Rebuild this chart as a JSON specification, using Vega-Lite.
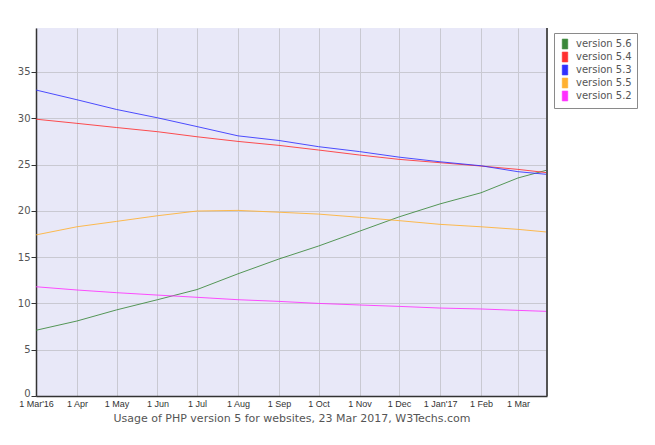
{
  "$schema": "https://vega.github.io/schema/vega-lite/v6.json",
  "width": 511,
  "height": 368,
  "autosize": {"type": "none"},
  "padding": {"left": 36, "top": 28, "right": 108, "bottom": 49},
  "background": "white",
  "config": {
    "view": {"stroke": null, "fill": "#e8e8f8"},
    "font": "DejaVu Sans"
  },
  "data": {
    "values": [
      {"date": "2016-03-01", "version": "version 5.6", "value": 7.1},
      {"date": "2016-04-01", "version": "version 5.6", "value": 8.1},
      {"date": "2016-05-01", "version": "version 5.6", "value": 9.3},
      {"date": "2016-06-01", "version": "version 5.6", "value": 10.4},
      {"date": "2016-07-01", "version": "version 5.6", "value": 11.5},
      {"date": "2016-08-01", "version": "version 5.6", "value": 13.2},
      {"date": "2016-09-01", "version": "version 5.6", "value": 14.8},
      {"date": "2016-10-01", "version": "version 5.6", "value": 16.2},
      {"date": "2016-11-01", "version": "version 5.6", "value": 17.8},
      {"date": "2016-12-01", "version": "version 5.6", "value": 19.35},
      {"date": "2017-01-01", "version": "version 5.6", "value": 20.75},
      {"date": "2017-02-01", "version": "version 5.6", "value": 21.95},
      {"date": "2017-03-01", "version": "version 5.6", "value": 23.55},
      {"date": "2017-03-23", "version": "version 5.6", "value": 24.4},
      {"date": "2016-03-01", "version": "version 5.4", "value": 29.9},
      {"date": "2016-04-01", "version": "version 5.4", "value": 29.45},
      {"date": "2016-05-01", "version": "version 5.4", "value": 29.0},
      {"date": "2016-06-01", "version": "version 5.4", "value": 28.55},
      {"date": "2016-07-01", "version": "version 5.4", "value": 28.0},
      {"date": "2016-08-01", "version": "version 5.4", "value": 27.5},
      {"date": "2016-09-01", "version": "version 5.4", "value": 27.07},
      {"date": "2016-10-01", "version": "version 5.4", "value": 26.57},
      {"date": "2016-11-01", "version": "version 5.4", "value": 26.03},
      {"date": "2016-12-01", "version": "version 5.4", "value": 25.56},
      {"date": "2017-01-01", "version": "version 5.4", "value": 25.2},
      {"date": "2017-02-01", "version": "version 5.4", "value": 24.84},
      {"date": "2017-03-01", "version": "version 5.4", "value": 24.48},
      {"date": "2017-03-23", "version": "version 5.4", "value": 24.12},
      {"date": "2016-03-01", "version": "version 5.3", "value": 33.05},
      {"date": "2016-04-01", "version": "version 5.3", "value": 32.0},
      {"date": "2016-05-01", "version": "version 5.3", "value": 30.95},
      {"date": "2016-06-01", "version": "version 5.3", "value": 30.05},
      {"date": "2016-07-01", "version": "version 5.3", "value": 29.1},
      {"date": "2016-08-01", "version": "version 5.3", "value": 28.1},
      {"date": "2016-09-01", "version": "version 5.3", "value": 27.6},
      {"date": "2016-10-01", "version": "version 5.3", "value": 26.93},
      {"date": "2016-11-01", "version": "version 5.3", "value": 26.4},
      {"date": "2016-12-01", "version": "version 5.3", "value": 25.8},
      {"date": "2017-01-01", "version": "version 5.3", "value": 25.3},
      {"date": "2017-02-01", "version": "version 5.3", "value": 24.87},
      {"date": "2017-03-01", "version": "version 5.3", "value": 24.23},
      {"date": "2017-03-23", "version": "version 5.3", "value": 23.94},
      {"date": "2016-03-01", "version": "version 5.5", "value": 17.4},
      {"date": "2016-04-01", "version": "version 5.5", "value": 18.28},
      {"date": "2016-05-01", "version": "version 5.5", "value": 18.86},
      {"date": "2016-06-01", "version": "version 5.5", "value": 19.47},
      {"date": "2016-07-01", "version": "version 5.5", "value": 19.98},
      {"date": "2016-08-01", "version": "version 5.5", "value": 20.05},
      {"date": "2016-09-01", "version": "version 5.5", "value": 19.85},
      {"date": "2016-10-01", "version": "version 5.5", "value": 19.65},
      {"date": "2016-11-01", "version": "version 5.5", "value": 19.3},
      {"date": "2016-12-01", "version": "version 5.5", "value": 18.94},
      {"date": "2017-01-01", "version": "version 5.5", "value": 18.54},
      {"date": "2017-02-01", "version": "version 5.5", "value": 18.28},
      {"date": "2017-03-01", "version": "version 5.5", "value": 18.0},
      {"date": "2017-03-23", "version": "version 5.5", "value": 17.71},
      {"date": "2016-03-01", "version": "version 5.2", "value": 11.8},
      {"date": "2016-04-01", "version": "version 5.2", "value": 11.45},
      {"date": "2016-05-01", "version": "version 5.2", "value": 11.16},
      {"date": "2016-06-01", "version": "version 5.2", "value": 10.9},
      {"date": "2016-07-01", "version": "version 5.2", "value": 10.66},
      {"date": "2016-08-01", "version": "version 5.2", "value": 10.4},
      {"date": "2016-09-01", "version": "version 5.2", "value": 10.22},
      {"date": "2016-10-01", "version": "version 5.2", "value": 10.0},
      {"date": "2016-11-01", "version": "version 5.2", "value": 9.83},
      {"date": "2016-12-01", "version": "version 5.2", "value": 9.68},
      {"date": "2017-01-01", "version": "version 5.2", "value": 9.5},
      {"date": "2017-02-01", "version": "version 5.2", "value": 9.4},
      {"date": "2017-03-01", "version": "version 5.2", "value": 9.25},
      {"date": "2017-03-23", "version": "version 5.2", "value": 9.14}
    ]
  },
  "layer": [
    {
      "mark": {"type": "line", "strokeWidth": 1, "opacity": 0.85},
      "encoding": {
        "x": {
          "field": "date",
          "type": "temporal",
          "scale": {
            "type": "utc",
            "domain": [
              {"year": 2016, "month": 3, "date": 1, "utc": true},
              {"year": 2017, "month": 3, "date": 23, "utc": true}
            ]
          },
          "axis": {
            "title": "Usage of PHP version 5 for websites, 23 Mar 2017, W3Techs.com",
            "titleFont": "DejaVu Sans",
            "titleFontSize": 11,
            "titleFontWeight": "normal",
            "titleColor": "#555555",
            "titlePadding": 4,
            "values": [
              {"year": 2016, "month": 3, "date": 1, "utc": true},
              {"year": 2016, "month": 4, "date": 1, "utc": true},
              {"year": 2016, "month": 5, "date": 1, "utc": true},
              {"year": 2016, "month": 6, "date": 1, "utc": true},
              {"year": 2016, "month": 7, "date": 1, "utc": true},
              {"year": 2016, "month": 8, "date": 1, "utc": true},
              {"year": 2016, "month": 9, "date": 1, "utc": true},
              {"year": 2016, "month": 10, "date": 1, "utc": true},
              {"year": 2016, "month": 11, "date": 1, "utc": true},
              {"year": 2016, "month": 12, "date": 1, "utc": true},
              {"year": 2017, "month": 1, "date": 1, "utc": true},
              {"year": 2017, "month": 2, "date": 1, "utc": true},
              {"year": 2017, "month": 3, "date": 1, "utc": true}
            ],
            "labelExpr": "(utcmonth(datum.value) == 0 || (utcmonth(datum.value) == 2 && utcyear(datum.value) == 2016)) ? '1 ' + utcFormat(datum.value, \"%b'%y\") : '1 ' + utcFormat(datum.value, '%b')",
            "labelFont": "Liberation Sans",
            "labelFontSize": 9,
            "labelColor": "#333333",
            "labelPadding": 3,
            "labelFlush": false,
            "labelOverlap": false,
            "ticks": false,
            "domainColor": "#333333",
            "domainWidth": 1.5,
            "grid": true,
            "gridColor": "#c9c9d2",
            "gridWidth": 1
          }
        },
        "y": {
          "field": "value",
          "type": "quantitative",
          "scale": {"domain": [0, 39.75], "nice": false, "zero": true},
          "axis": {
            "title": null,
            "values": [0, 5, 10, 15, 20, 25, 30, 35],
            "labelFont": "DejaVu Sans",
            "labelFontSize": 10,
            "labelColor": "#555555",
            "labelPadding": 1,
            "labelOffset": {"condition": {"test": "datum.value == 0", "value": -3}, "value": 0},
            "tickSize": 5,
            "tickColor": "#333333",
            "domainColor": "#333333",
            "domainWidth": 1.5,
            "gridColor": "#c9c9d2",
            "gridWidth": 1
          }
        },
        "color": {
          "field": "version",
          "type": "nominal",
          "scale": {
            "domain": ["version 5.6", "version 5.4", "version 5.3", "version 5.5", "version 5.2"],
            "range": ["#3a873a", "#ff3030", "#3030ff", "#ffb030", "#ff30ff"]
          },
          "legend": {
            "title": null,
            "orient": "none",
            "legendX": 518,
            "legendY": 5,
            "padding": 5,
            "fillColor": "white",
            "strokeColor": "#8a8a8a",
            "symbolType": "M-0.5,-0.9H0.5V0.9H-0.5Z",
            "symbolSize": 121,
            "symbolStrokeColor": "#444444",
            "symbolStrokeWidth": 0.6,
            "symbolOpacity": 1,
            "labelFont": "DejaVu Sans",
            "labelFontSize": 10,
            "labelColor": "#555555",
            "labelOffset": 5,
            "rowPadding": -3,
            "labelExpr": "datum.label + '   '",
            "encode": {
              "symbols": {
                "update": {
                  "fill": {"scale": "color", "field": "value"},
                  "stroke": {"value": "#444444"},
                  "strokeWidth": {"value": 0.6},
                  "size": {"value": 121},
                  "shape": {"value": "M-0.5,-0.9H0.5V0.9H-0.5Z"},
                  "opacity": {"value": 1}
                }
              }
            }
          }
        }
      }
    },
    {
      "mark": {"type": "rule", "color": "#555555", "strokeWidth": 1},
      "encoding": {
        "x": {"datum": {"year": 2017, "month": 3, "date": 23, "utc": true}, "type": "temporal"}
      }
    }
  ]
}
